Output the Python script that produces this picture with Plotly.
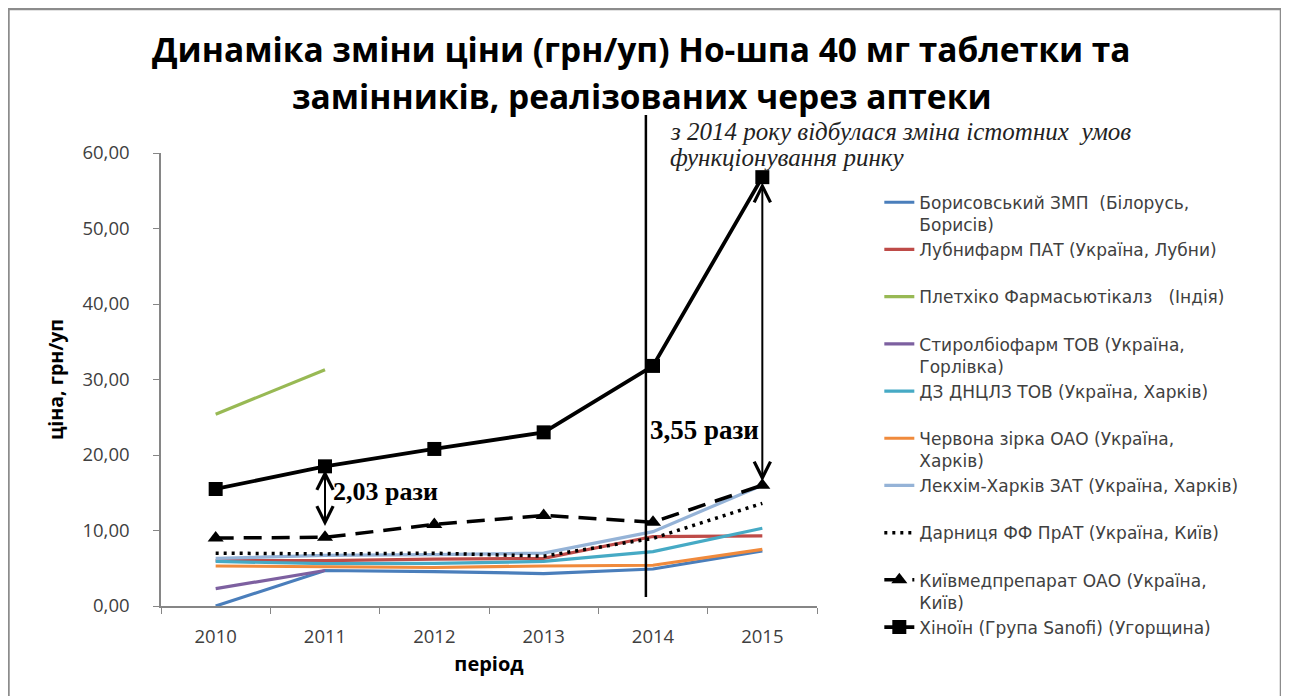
import plotly.graph_objects as go

years = ["2010", "2011", "2012", "2013", "2014", "2015"]

borysiv = [0.0, 4.7, 4.55, 4.3, 4.9, 7.3]
lubnyfarm = [6.0, 6.0, 6.2, 6.3, 9.2, 9.3]
pletkhiko = [25.4, 31.3, None, None, None, None]
styrol = [2.3, 4.7, None, None, None, None]
dz_dnclz = [5.9, 5.6, 5.65, 5.9, 7.2, 10.3]
chervona = [5.3, 5.2, 5.1, 5.3, 5.4, 7.5]
lekhim = [6.3, 6.7, 6.8, 7.0, 9.85, 16.0]
darnytsia = [7.0, 6.9, 7.0, 6.6, 8.96, 13.6]
kyivmed = [9.0, 9.1, 10.8, 12.0, 11.1, 16.0]
khinoin = [15.5, 18.5, 20.8, 23.0, 31.8, 56.8]

names = [
    "Борисовський ЗМП  (Білорусь,<br>Борисів)",
    "Лубнифарм ПАТ (Україна, Лубни)<br> ",
    "Плетхіко Фармасьютікалз   (Індія)<br> ",
    "Стиролбіофарм ТОВ (Україна,<br>Горлівка)",
    "ДЗ ДНЦЛЗ ТОВ (Україна, Харків)<br> ",
    "Червона зірка ОАО (Україна,<br>Харків)",
    "Лекхім-Харків ЗАТ (Україна, Харків)<br> ",
    "Дарниця ФФ ПрАТ (Україна, Київ)<br> ",
    "Київмедпрепарат ОАО (Україна,<br>Київ)",
    "Хіноїн (Група Sanofi) (Угорщина)<br> ",
]

title_lines = [
    "Динаміка зміни ціни (грн/уп) Но-шпа 40 мг таблетки та",
    "замінників, реалізованих через аптеки",
]
note_lines = [
    "з 2014 року відбулася зміна істотних  умов",
    "функціонування ринку",
]

FONT = "Open Sans"
LEG_FONT = "DejaVu Sans"
SERIF = "Liberation Serif"

fig = go.Figure()

colored = [
    (borysiv, "#4A7EBB"),
    (lubnyfarm, "#BE4B48"),
    (pletkhiko, "#98B954"),
    (styrol, "#7D60A0"),
    (dz_dnclz, "#46AAC5"),
    (chervona, "#F08A3C"),
    (lekhim, "#95B3D7"),
]
for i, (vals, col) in enumerate(colored):
    fig.add_trace(go.Scatter(x=years, y=vals, mode="lines", name=names[i],
                             line=dict(color=col, width=3.2)))

fig.add_trace(go.Scatter(x=years, y=darnytsia, mode="lines", name=names[7],
                         line=dict(color="black", width=3.5, dash="3px,5px")))
fig.add_trace(go.Scatter(x=years, y=kyivmed, mode="lines+markers", name=names[8],
                         line=dict(color="black", width=3.5, dash="18px,10px"),
                         marker=dict(symbol="triangle-up", size=14, color="black")))
fig.add_trace(go.Scatter(x=years, y=khinoin, mode="lines+markers", name=names[9],
                         line=dict(color="black", width=3.8),
                         marker=dict(symbol="square", size=14, color="black")))

# vertical line: change of market conditions since 2014
fig.add_shape(type="line", xref="x", yref="paper", x0=3.935, x1=3.935, y0=0.02, y1=1.084,
              line=dict(color="black", width=2.5))

# outer frame
fig.add_shape(type="rect", xref="paper", yref="paper", x0=-0.2325, x1=1.7073, y0=-0.25, y1=1.3179,
              line=dict(color="#8c8c8c", width=2.5))

# title as two lines
for txt, yy in zip(title_lines, [1.2296, 1.1258]):
    fig.add_annotation(x=0.7332, y=yy, xref="paper", yref="paper", xanchor="center", yanchor="middle",
                       showarrow=False,
                       text=f"<b>{txt}</b>", font=dict(family=FONT, size=33.5, color="black"))

# note text
for txt, yy in zip(note_lines, [1.0464, 0.989]):
    fig.add_annotation(x=0.7729, y=yy, xref="paper", yref="paper", xanchor="left", yanchor="middle",
                       showarrow=False,
                       text=f"<i>{txt}</i>", font=dict(family=SERIF, size=25, color="#222222"))

# double arrow 2011
fig.add_annotation(x=1, y=10.6, ax=1, ay=18.2, xref="x", yref="y", axref="x", ayref="y",
                   showarrow=True, arrowhead=5, startarrowhead=5, arrowside="end+start",
                   arrowsize=1.6, startarrowsize=1.6, arrowwidth=2, arrowcolor="black", text="")
fig.add_annotation(x=1, y=15.2, xref="x", yref="y", xanchor="left", yanchor="middle", xshift=6,
                   showarrow=False,
                   text="<b>2,03 рази</b>", font=dict(family=SERIF, size=26, color="black"))

# double arrow 2015
fig.add_annotation(x=5, y=16.5, ax=5, ay=56.3, xref="x", yref="y", axref="x", ayref="y",
                   showarrow=True, arrowhead=5, startarrowhead=5, arrowside="end+start",
                   arrowsize=1.6, startarrowsize=1.6, arrowwidth=2, arrowcolor="black", text="")
fig.add_annotation(x=4.474, y=23.3, xref="x", yref="y", xanchor="center", yanchor="middle",
                   showarrow=False,
                   text="<b>3,55 рази</b>", font=dict(family=SERIF, size=27, color="black"))

fig.update_layout(
    width=1289, height=696,
    margin=dict(l=153, r=480, t=145, b=98),
    paper_bgcolor="white", plot_bgcolor="white",
    separators=", ",
    font=dict(family=FONT, color="#404040"),
    showlegend=True,
    legend=dict(x=1.095, y=0.93, xanchor="left", yanchor="top", valign="top",
                font=dict(family=LEG_FONT, size=17, color="#404040"), bgcolor="rgba(0,0,0,0)",
                tracegroupgap=0, maxheight=700),
)
fig.update_xaxes(type="category", range=[-0.5, 5.5], showgrid=False, showline=True,
                 linecolor="#868686", linewidth=1.5,
                 ticks="outside", tickson="boundaries", ticklen=6, tickcolor="#868686",
                 ticklabelstandoff=13,
                 tickfont=dict(family=FONT, size=18.5, color="#404040"),
                 title=dict(text="<b>період</b>", font=dict(family=FONT, size=20, color="black"), standoff=10))
fig.update_yaxes(range=[0, 60], dtick=10, tickformat=".2f", showgrid=False, showline=True,
                 linecolor="#868686", linewidth=1.5, ticks="outside", ticklen=6, tickcolor="#868686",
                 zeroline=False, tickfont=dict(family=FONT, size=18.5, color="#404040"),
                 ticklabelstandoff=20,
                 title=dict(text="<b>ціна, грн/уп</b>", font=dict(family=FONT, size=19.5, color="black"), standoff=14))

fig.write_html("out.html")
